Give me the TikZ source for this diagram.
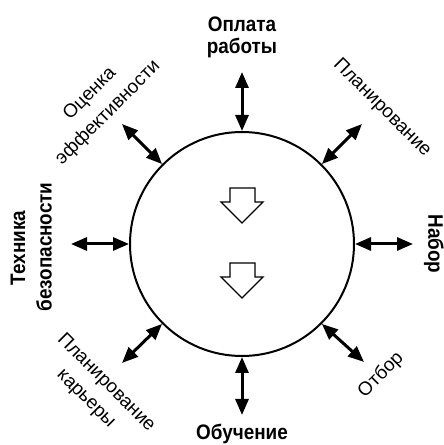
\documentclass[tikz,border=0pt]{standalone}
\usepackage{fontspec}
\usepackage{graphicx}
\setmainfont{Liberation Sans}
\newcommand\narrowtxt[1]{\scalebox{0.9}[1]{#1}}
\usetikzlibrary{arrows.meta}
\tikzset{
  headtip/.tip={Triangle[length=16pt,width=13pt]},
  dbl/.style={line width=3pt,headtip-headtip},
  lab/.style={font=\fontsize{19}{22}\selectfont,inner sep=0pt},
  blab/.style={font=\bfseries\fontsize{21}{25}\selectfont,inner sep=0pt},
  blk/.style={draw,line width=1.3pt,fill=white,line join=miter}
}
\begin{document}
\begin{tikzpicture}[x=1pt,y=1pt]
\useasboundingbox (0,0) rectangle (444,445);
\node[draw,circle,line width=2pt,minimum size=224pt,inner sep=0pt] (c) at (242,201) {};
% outer ends
\coordinate (tN) at (242,373);
\coordinate (tNE) at (362,321);
\coordinate (tE) at (413,201);
\coordinate (tSE) at (364,83);
\coordinate (tS) at (242,30);
\coordinate (tSW) at (122,82);
\coordinate (tW) at (71,201);
\coordinate (tNW) at (122,321);
\draw[dbl] (c.90) -- (tN);
\draw[dbl] (c.45) -- (tNE);
\draw[dbl] (c.0) -- (tE);
\draw[dbl] (c.-45) -- (tSE);
\draw[dbl] (c.-90) -- (tS);
\draw[dbl] (c.-135) -- (tSW);
\draw[dbl] (c.180) -- (tW);
\draw[dbl] (c.135) -- (tNW);
% block arrows
\draw[blk] (230,257) -- (255,257) -- (255,243) -- (263,243) -- (242,222) -- (221,243) -- (230,243) -- cycle;
\draw[blk] (230,182) -- (255,182) -- (255,168) -- (263,168) -- (242,147) -- (221,168) -- (230,168) -- cycle;
% labels
\node[blab] (l1a) at (242,421) {\narrowtxt{Оплата}};
\node[blab] (l1b) at (242,397) {\narrowtxt{работы}};
\node[lab,rotate=45] (l2a) at (90,351) {Оценка};
\node[lab,rotate=45] (l2b) at (108,332) {эффективности};
\node[lab,rotate=-45] (l3) at (382,337) {Планирование};
\node[blab,rotate=90] (l4a) at (18,197) {\narrowtxt{Техника}};
\node[blab,rotate=90] (l4b) at (44,198) {\narrowtxt{безопасности}};
\node[blab,rotate=-90] (l5) at (434,201) {\narrowtxt{Набор}};
\node[lab,rotate=-45] (l6a) at (106,62) {Планирование};
\node[lab,rotate=-45] (l6b) at (85,45) {карьеры};
\node[lab,rotate=45] (l7) at (381,70) {Отбор};
\node[blab] (l8) at (242,11) {\narrowtxt{Обучение}};
\end{tikzpicture}
\end{document}
